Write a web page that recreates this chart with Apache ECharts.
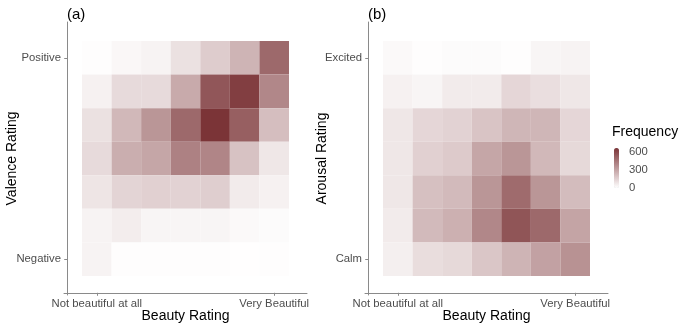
<!DOCTYPE html>
<html>
<head>
<meta charset="utf-8">
<script src="https://cdn.jsdelivr.net/npm/echarts@6/dist/echarts.min.js"></script>
<style>
  html, body { margin: 0; padding: 0; background: #fff; }
  #chart { width: 685px; height: 327px; }
</style>
</head>
<body>
<div id="chart"></div>
<script>
// rating levels 1..7 on each axis
const ratings = [1, 2, 3, 4, 5, 6, 7];
const beautyTicks = { 1: "Not beautiful at all", 7: "Very Beautiful" };
const valenceTicks = { 1: "Negative", 7: "Positive" };
const arousalTicks = { 1: "Calm", 7: "Excited" };
const legendTicks = [0, 300, 600];

// frequencies, rows listed from rating 7 (top) down to rating 1, columns beauty 1..7
const valenceFreq = [
  [7, 26, 40, 99, 165, 244, 488],
  [46, 119, 119, 277, 548, 627, 389],
  [99, 231, 343, 488, 660, 521, 211],
  [119, 264, 290, 409, 396, 198, 79],
  [86, 139, 152, 145, 158, 66, 46],
  [40, 59, 33, 33, 33, 20, 13],
  [40, 7, 7, 7, 7, 2, 7],
];
const arousalFreq = [
  [20, 7, 13, 13, 7, 33, 40],
  [46, 33, 66, 66, 132, 106, 79],
  [79, 132, 145, 191, 238, 238, 132],
  [79, 152, 172, 290, 343, 231, 125],
  [79, 205, 224, 343, 482, 343, 218],
  [66, 224, 257, 389, 554, 488, 297],
  [53, 112, 125, 185, 244, 304, 356],
];

function toCells(rows) {
  const out = [];
  rows.forEach((row, i) => {
    const y = ratings[ratings.length - 1 - i];
    row.forEach((v, j) => out.push([ratings[j], y, v]));
  });
  return out;
}

function renderTile(params, api) {
  const x = api.value(0);
  const y = api.value(1);
  const p0 = api.coord([x - 0.5, y + 0.5]);
  const p1 = api.coord([x + 0.5, y - 0.5]);
  return {
    type: "rect",
    shape: { x: p0[0], y: p0[1], width: p1[0] - p0[0], height: p1[1] - p0[1] },
    style: { fill: api.visual("color") },
  };
}

const font = "Liberation Sans, Arial, sans-serif";
const axisGrey = "#8a8a8a";
const labelGrey = "#4d4d4d";

function xAxisFor(gridIndex) {
  return {
    type: "value",
    gridIndex,
    min: -0.109,
    max: 8.109,
    name: "Beauty Rating",
    nameLocation: "middle",
    nameGap: 14,
    nameMoveOverlap: false,
    nameTextStyle: { fontFamily: font, fontSize: 14, color: "#000" },
    axisLine: { show: true, lineStyle: { color: axisGrey, width: 1 } },
    axisTick: { show: true, customValues: [1, 7], length: 3, lineStyle: { color: axisGrey } },
    axisLabel: {
      customValues: [1, 7],
      formatter: (v) => beautyTicks[v] || "",
      fontFamily: font,
      fontSize: 11.3,
      color: labelGrey,
      margin: 3,
    },
    splitLine: { show: false },
  };
}

function yAxisFor(gridIndex, title, ticks, gap) {
  return {
    type: "value",
    gridIndex,
    min: -0.066,
    max: 8.066,
    name: title,
    nameLocation: "middle",
    nameGap: gap,
    nameMoveOverlap: false,
    nameTextStyle: { fontFamily: font, fontSize: 14, color: "#000" },
    axisLine: { show: true, lineStyle: { color: axisGrey, width: 1 } },
    axisTick: { show: true, customValues: [1, 7], length: 3, lineStyle: { color: axisGrey } },
    axisLabel: {
      customValues: [1, 7],
      formatter: (v) => ticks[v] || "",
      fontFamily: font,
      fontSize: 11.3,
      color: labelGrey,
      margin: 3,
    },
    splitLine: { show: false },
  };
}

const chart = echarts.init(document.getElementById("chart"));
chart.setOption({
  animation: false,
  backgroundColor: "#fff",
  title: [
    { text: "(a)", left: 62, top: 2, textStyle: { fontFamily: font, fontSize: 15, fontWeight: "normal", color: "#000" } },
    { text: "(b)", left: 363, top: 2, textStyle: { fontFamily: font, fontSize: 15, fontWeight: "normal", color: "#000" } },
    { text: "Frequency", left: 612, top: 125, padding: 0, textStyle: { fontFamily: font, fontSize: 14, fontWeight: "normal", color: "#000" } },
  ],
  grid: [
    { left: 64, top: 22, width: 243, height: 273, outerBoundsMode: "none" },
    { left: 365, top: 22, width: 243, height: 273, outerBoundsMode: "none" },
    { left: 614, top: 148, width: 5, height: 40, outerBoundsMode: "none" },
  ],
  xAxis: [
    xAxisFor(0),
    xAxisFor(1),
    { type: "value", gridIndex: 2, show: false, min: 0, max: 1 },
  ],
  yAxis: [
    yAxisFor(0, "Valence Rating", valenceTicks, 45),
    yAxisFor(1, "Arousal Rating", arousalTicks, 36),
    {
      type: "value",
      gridIndex: 2,
      position: "right",
      min: 0,
      max: 660,
      axisLine: { show: false },
      axisTick: { show: false },
      splitLine: { show: false },
      axisLabel: {
        customValues: legendTicks,
        fontFamily: font,
        fontSize: 11.3,
        color: labelGrey,
        margin: 10,
      },
    },
  ],
  visualMap: {
    type: "continuous",
    min: 0,
    max: 660,
    dimension: 2,
    seriesIndex: [0, 1],
    calculable: false,
    left: 614,
    top: 148,
    padding: 0,
    itemWidth: 5,
    itemHeight: 40,
    text: null,
    showLabel: false,
    inRange: { color: ["#ffffff", "#7b3437"] },
  },
  series: [
    { type: "custom", xAxisIndex: 0, yAxisIndex: 0, renderItem: renderTile, data: toCells(valenceFreq) },
    { type: "custom", xAxisIndex: 1, yAxisIndex: 1, renderItem: renderTile, data: toCells(arousalFreq) },
  ],
});
</script>
</body>
</html>
